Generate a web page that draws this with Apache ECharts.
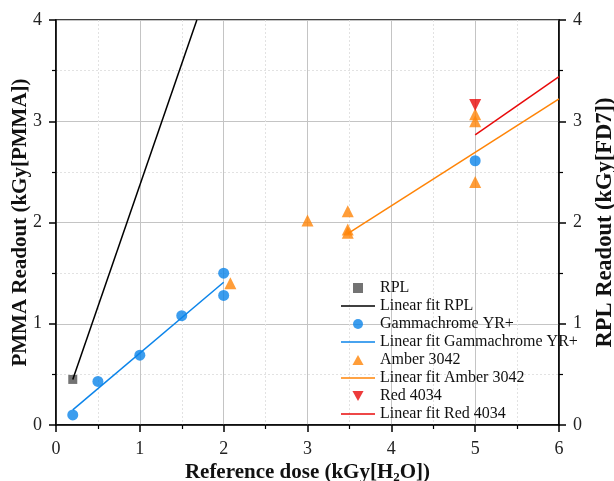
<!DOCTYPE html>
<html><head><meta charset="utf-8">
<script src="https://cdn.jsdelivr.net/npm/echarts@6/dist/echarts.min.js"></script>
<style>html,body{margin:0;padding:0;background:#fff}#c{width:614px;height:481px}</style>
</head><body><div id="c"></div>
<script>
const rplX = [0.2], rplY = [0.45];
const rplFitX = [0.2, 1.68], rplFitY = [0.45, 4.0];
const gammaX = [0.2, 0.5, 1.0, 1.5, 2.0, 2.0, 5.0];
const gammaY = [0.10, 0.43, 0.69, 1.08, 1.50, 1.28, 2.61];
const gammaFitX = [0.2, 2.0], gammaFitY = [0.15, 1.41];
const amberX = [2.08, 3.0, 3.48, 3.48, 3.48, 5.0, 5.0, 5.0];
const amberY = [1.40, 2.02, 2.11, 1.93, 1.90, 3.07, 3.00, 2.40];
const amberFitX = [3.48, 6.0], amberFitY = [1.89, 3.22];
const redX = [5.0], redY = [3.16];
const redFitX = [5.0, 6.0], redFitY = [2.865, 3.44];
const seriesNames = ['RPL','Linear fit RPL','Gammachrome YR+','Linear fit Gammachrome YR+','Amber 3042','Linear fit Amber 3042','Red 4034','Linear fit Red 4034'];

const zip = (a, b) => a.map((v, i) => [v, b[i]]);
const FONT = 'Liberation Serif';
const cGray = '#505050', cBlack = '#000', cBlue = '#0b84ea', cOrange = '#ff8407', cRed = '#e80a0a';
const downTri = 'path://M0,0 L10,0 L5,9 Z';
const upTri = 'path://M5,0 L10,9 L0,9 Z';
const square = 'path://M0,0 H10 V10 H0 Z';
const lineIcon = 'path://M0,0 H34 V1.6 H0 Z';

const axisCommon = {
  min: 0, interval: 1, nameMoveOverlap: false,
  axisLine: {show: true, lineStyle: {color: '#000', width: 1.5}},
  axisTick: {show: true, inside: false, length: 7, lineStyle: {color: '#000', width: 1.5}},
  minorTick: {show: true, splitNumber: 2, length: 4, lineStyle: {color: '#000', width: 1.2}},
  axisLabel: {fontFamily: FONT, fontSize: 18, color: '#222'},
  splitLine: {show: true, lineStyle: {color: '#c4c4c4', width: 1}},
  minorSplitLine: {show: true, lineStyle: {color: '#e2e2e2', width: 1, type: [2, 2]}}
};

const chart = echarts.init(document.getElementById('c'), null, {renderer: 'canvas'});
chart.setOption({
  animation: false,
  backgroundColor: '#fff',
  grid: {left: 56, right: 55, top: 20, bottom: 56, outerBoundsMode: 'none', containLabel: false,
    show: true, borderColor: '#000', borderWidth: 1.5, backgroundColor: 'transparent'},
  xAxis: Object.assign({}, axisCommon, {
    type: 'value', max: 6,
    axisLabel: Object.assign({}, axisCommon.axisLabel, {margin: 15}),
    name: 'Reference dose (kGy[H{s|2}O])', nameLocation: 'middle', nameGap: 37,
    nameTextStyle: {fontFamily: FONT, fontSize: 21, fontWeight: 'bold', color: '#111',
      rich: {s: {fontFamily: FONT, fontSize: 13, fontWeight: 'bold', verticalAlign: 'bottom', padding: [9, 0, 0, 0]}}}
  }),
  yAxis: [
    Object.assign({}, axisCommon, {
      type: 'value', max: 4, position: 'left',
      axisLabel: Object.assign({}, axisCommon.axisLabel, {margin: 14}),
      name: 'PMMA Readout (kGy[PMMA])', nameLocation: 'middle', nameGap: 25, nameRotate: 90,
      nameTextStyle: {fontFamily: FONT, fontSize: 21, fontWeight: 'bold', color: '#111'}
    }),
    Object.assign({}, axisCommon, {
      type: 'value', max: 4, position: 'right',
      splitLine: {show: false}, minorSplitLine: {show: false},
      axisLabel: Object.assign({}, axisCommon.axisLabel, {margin: 14}),
      name: 'RPL Readout (kGy[FD7])', nameLocation: 'middle', nameGap: 35, nameRotate: 90,
      nameTextStyle: {fontFamily: FONT, fontSize: 22.5, fontWeight: 'bold', color: '#111'}
    })
  ],
  legend: {
    orient: 'vertical', left: 341, top: 280, padding: 0, itemWidth: 34, itemHeight: 10, itemGap: 2,
    symbolKeepAspect: true,
    textStyle: {fontFamily: FONT, fontSize: 16, color: '#111', lineHeight: 16},
    data: [
      {name: seriesNames[0], icon: square, itemStyle: {color: cGray}},
      {name: seriesNames[1], icon: lineIcon, itemStyle: {color: cBlack}},
      {name: seriesNames[2], icon: 'circle', itemStyle: {color: cBlue}},
      {name: seriesNames[3], icon: lineIcon, itemStyle: {color: cBlue}},
      {name: seriesNames[4], icon: upTri, itemStyle: {color: cOrange}},
      {name: seriesNames[5], icon: lineIcon, itemStyle: {color: cOrange}},
      {name: seriesNames[6], icon: downTri, itemStyle: {color: cRed}},
      {name: seriesNames[7], icon: lineIcon, itemStyle: {color: cRed}}
    ]
  },
  series: [
    {name: seriesNames[0], type: 'scatter', symbol: 'rect', symbolSize: 9, itemStyle: {color: cGray}, data: zip(rplX, rplY)},
    {name: seriesNames[1], type: 'line', symbol: 'none', lineStyle: {color: cBlack, width: 1.5}, itemStyle: {color: cBlack}, data: zip(rplFitX, rplFitY)},
    {name: seriesNames[2], type: 'scatter', symbol: 'circle', symbolSize: 11, itemStyle: {color: cBlue}, data: zip(gammaX, gammaY)},
    {name: seriesNames[3], type: 'line', symbol: 'none', lineStyle: {color: cBlue, width: 1.5}, itemStyle: {color: cBlue}, data: zip(gammaFitX, gammaFitY)},
    {name: seriesNames[4], type: 'scatter', symbol: 'triangle', symbolSize: 12, itemStyle: {color: cOrange}, data: zip(amberX, amberY)},
    {name: seriesNames[5], type: 'line', symbol: 'none', lineStyle: {color: cOrange, width: 1.5}, itemStyle: {color: cOrange}, data: zip(amberFitX, amberFitY)},
    {name: seriesNames[6], type: 'scatter', symbol: downTri, symbolSize: 12, itemStyle: {color: cRed}, data: zip(redX, redY)},
    {name: seriesNames[7], type: 'line', symbol: 'none', lineStyle: {color: cRed, width: 1.5}, itemStyle: {color: cRed}, data: zip(redFitX, redFitY)}
  ]
});
</script></body></html>
